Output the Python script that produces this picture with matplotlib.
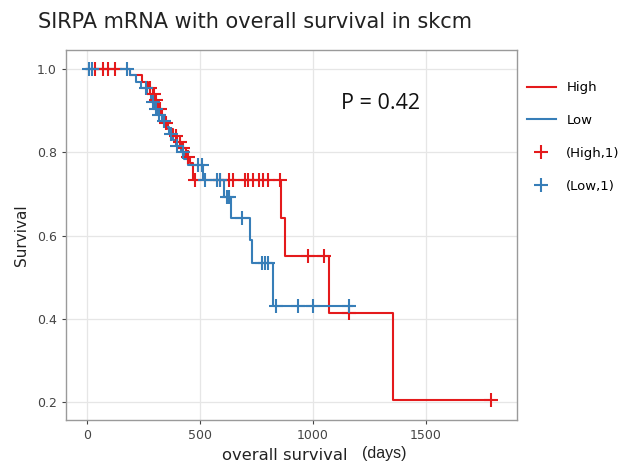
import matplotlib.pyplot as plt

# Kaplan-Meier steps: event times (days) and survival after each step
high_times = [0, 190, 245, 270, 290, 300, 315, 330, 345, 360, 380, 400, 420, 440, 455, 470, 858, 876, 1071, 1354, 1790]
high_surv = [1.0, 0.985, 0.97, 0.955, 0.94, 0.925, 0.905, 0.89, 0.87, 0.855, 0.84, 0.825, 0.81, 0.79, 0.775, 0.733, 0.642, 0.551, 0.414, 0.206, 0.206]

low_times = [0, 190, 215, 240, 265, 285, 300, 310, 330, 350, 365, 380, 395, 415, 430, 445, 513, 606, 637, 721, 732, 825, 1175]
low_surv = [1.0, 0.985, 0.97, 0.955, 0.94, 0.92, 0.905, 0.89, 0.875, 0.86, 0.845, 0.83, 0.815, 0.80, 0.785, 0.77, 0.733, 0.693, 0.642, 0.59, 0.534, 0.43, 0.43]

# censored observations
high_cens_t = [35, 71, 93, 124, 280, 296, 305, 322, 350, 392, 410, 425, 448, 478, 588, 630, 645, 700, 712, 735, 760, 780, 800, 855, 978, 1049, 1160, 1790]
low_cens_t = [9, 22, 177, 260, 292, 305, 320, 340, 372, 400, 425, 491, 509, 520, 575, 588, 619, 628, 686, 774, 788, 801, 835, 935, 1000, 1160]

red = "#e41a1c"
blue = "#377eb8"


def surv_at(times, surv, t):
    s = surv[0]
    for ti, si in zip(times, surv):
        if ti <= t:
            s = si
    return s


fig = plt.figure(figsize=(6.31, 4.65), dpi=100)
ax = fig.add_axes([0.1046, 0.0968, 0.7147, 0.7957])

ax.step(high_times, high_surv, where="post", color=red, lw=1.5, label="High")
ax.step(low_times, low_surv, where="post", color=blue, lw=1.5, label="Low")
ax.plot(high_cens_t, [surv_at(high_times, high_surv, t) for t in high_cens_t],
        ls="none", marker="+", ms=10, mew=1.5, color=red, label="(High,1)")
ax.plot(low_cens_t, [surv_at(low_times, low_surv, t) for t in low_cens_t],
        ls="none", marker="+", ms=10, mew=1.5, color=blue, label="(Low,1)")

ax.set_xlim(-93, 1903)
ax.set_ylim(0.157, 1.046)
ax.set_xticks([0, 500, 1000, 1500])
ax.set_yticks([0.2, 0.4, 0.6, 0.8, 1.0])
ax.set_yticklabels(["0.2", "0.4", "0.6", "0.8", "1.0"])
ax.grid(True, color="#e6e6e6", lw=0.9)
ax.set_axisbelow(True)
for sp in ax.spines.values():
    sp.set_color("#9a9a9a")
    sp.set_linewidth(1.0)
ax.tick_params(colors="#444444", labelsize=9, length=3, width=0.8)

ax.set_ylabel("Survival", fontsize=11, color="#222222", labelpad=6)
fig.text(0.452, 0.010, "overall survival", fontsize=11.8, color="#222222", ha="center")
fig.text(0.574, 0.014, "(days)", fontsize=11.5, color="#222222", ha="left",
         family="Liberation Sans")
fig.text(0.06, 0.94, "SIRPA mRNA with overall survival in skcm", fontsize=15,
         color="#222222", ha="left")
ax.text(0.61, 0.84, "P = 0.42", transform=ax.transAxes, fontsize=15.5,
        family="Open Sans", color="#111111")

ax.legend(loc="upper left", bbox_to_anchor=(1.01, 0.93), frameon=False,
          fontsize=9.5, handlelength=2.2, labelspacing=1.5, borderaxespad=0)

plt.savefig("out.png", dpi=100)
